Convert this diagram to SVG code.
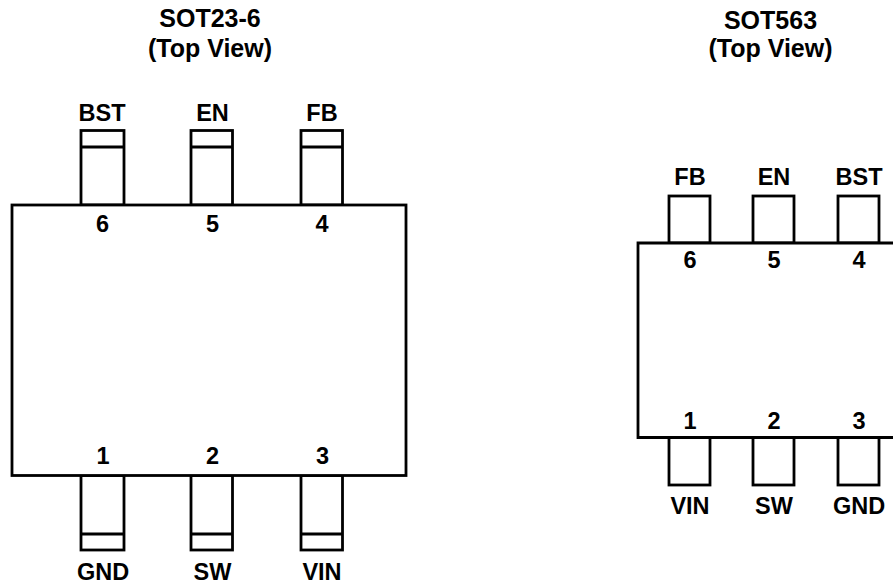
<svg xmlns="http://www.w3.org/2000/svg" width="893" height="584" viewBox="0 0 893 584">
<style>
.b{fill:#fff;stroke:#000;stroke-width:2.8;stroke-linejoin:miter}
.p{fill:#fff;stroke:#000;stroke-width:2.8}
.l{fill:none;stroke:#000;stroke-width:2.8}
text{font-family:"Liberation Sans",Arial,sans-serif;font-weight:bold;fill:#000;text-anchor:middle}
.t{font-size:25px}
.n{font-size:23.5px}
</style>
<rect width="893" height="584" fill="#fff"/>
<g id="sot23-title"><text class="t" x="210" y="27">SOT23-6</text><text class="t" x="210" y="57">(Top View)</text></g>
<g id="sot563-title"><text class="t" x="770.5" y="29">SOT563</text><text class="t" x="770.5" y="57">(Top View)</text></g>
<g id="sot23-pins">
<g id="a-pin6"><rect class="p" x="81" y="130.5" width="43" height="74.5"/><path class="l" d="M81 147H124"/><text class="n" x="102" y="121">BST</text></g>
<g id="a-pin5"><rect class="p" x="191" y="130.5" width="41.5" height="74.5"/><path class="l" d="M191 147H232.5"/><text class="n" x="212.5" y="121">EN</text></g>
<g id="a-pin4"><rect class="p" x="301" y="130.5" width="41.5" height="74.5"/><path class="l" d="M301 147H342.5"/><text class="n" x="322" y="121">FB</text></g>
<g id="a-pin1"><rect class="p" x="81" y="475.5" width="43" height="74.5"/><path class="l" d="M81 534H124"/><text class="n" x="103" y="580">GND</text></g>
<g id="a-pin2"><rect class="p" x="191" y="475.5" width="41.5" height="74.5"/><path class="l" d="M191 534H232.5"/><text class="n" x="212.5" y="580">SW</text></g>
<g id="a-pin3"><rect class="p" x="301" y="475.5" width="41.5" height="74.5"/><path class="l" d="M301 534H342.5"/><text class="n" x="322" y="580">VIN</text></g>
</g>
<g id="sot23-body"><rect class="b" x="12" y="205" width="394" height="270.5"/>
<text class="n" x="102.5" y="232">6</text><text class="n" x="212.5" y="232">5</text><text class="n" x="322" y="232">4</text>
<text class="n" x="103" y="464">1</text><text class="n" x="212.5" y="464">2</text><text class="n" x="322.5" y="464">3</text></g>
<g id="sot563-pins">
<g id="b-pin6"><rect class="p" x="669" y="196" width="41" height="47"/><text class="n" x="690" y="185">FB</text></g>
<g id="b-pin5"><rect class="p" x="753" y="196" width="41" height="47"/><text class="n" x="774" y="185">EN</text></g>
<g id="b-pin4"><rect class="p" x="838" y="196" width="41" height="47"/><text class="n" x="859" y="185">BST</text></g>
<g id="b-pin1"><rect class="p" x="669" y="437.5" width="41" height="47.5"/><text class="n" x="690" y="514">VIN</text></g>
<g id="b-pin2"><rect class="p" x="753" y="437.5" width="41" height="47.5"/><text class="n" x="774" y="514">SW</text></g>
<g id="b-pin3"><rect class="p" x="838" y="437.5" width="41" height="47.5"/><text class="n" x="859" y="514">GND</text></g>
</g>
<g id="sot563-body"><path class="b" d="M895 243H638V437.5H895"/>
<text class="n" x="690" y="268">6</text><text class="n" x="774" y="268">5</text><text class="n" x="859" y="268">4</text>
<text class="n" x="690" y="429">1</text><text class="n" x="774" y="429">2</text><text class="n" x="859" y="429">3</text></g>
</svg>
